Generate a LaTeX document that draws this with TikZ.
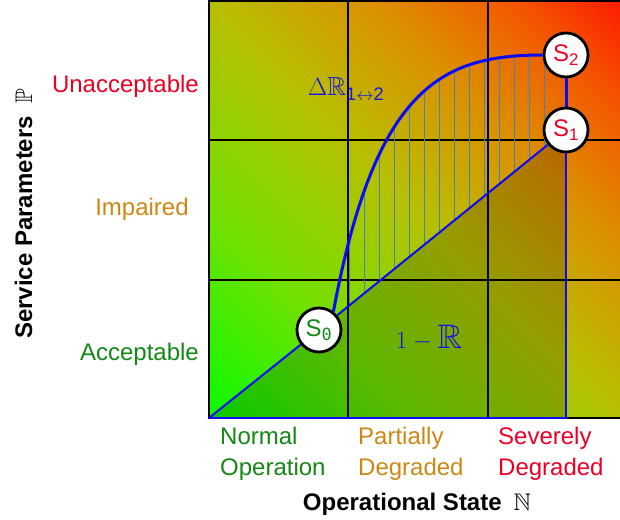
\documentclass[tikz,border=0pt]{standalone}
\usepackage{amsmath}
\usepackage{amssymb}
\usepackage[no-math]{fontspec}
\setmainfont{Liberation Sans}
\newfontfamily\zerofont{DejaVu Sans Mono}
\usepackage{tikz}
\usetikzlibrary{calc}

\definecolor{lblred}{RGB}{235,0,35}
\definecolor{lblorange}{RGB}{205,135,20}
\definecolor{lblgreen}{RGB}{20,135,20}
\definecolor{hatchblue}{RGB}{70,130,195}
\definecolor{lineblue}{RGB}{10,10,250}
\definecolor{mathblue}{RGB}{20,20,230}

% green -> yellow -> red along the diagonal (corners sit at 14.6bp and 85.4bp)
\pgfdeclarehorizontalshading{statefield}{100bp}{rgb(0bp)=(0.04,0.98,0); rgb(14.6bp)=(0.04,0.98,0); rgb(32.3bp)=(0.45,0.88,0); rgb(50bp)=(0.72,0.75,0); rgb(64.2bp)=(0.86,0.56,0); rgb(74.8bp)=(0.95,0.36,0); rgb(85.4bp)=(1,0.1,0); rgb(100bp)=(1,0.1,0)}

\begin{document}
\begin{tikzpicture}[x=1pt,y=1pt,
	state/.style={circle,draw=black,line width=2.8pt,fill=white,minimum size=44pt,inner sep=0pt,font=\fontsize{24}{28}\selectfont},
	lbl/.style={inner sep=0pt,font=\fontsize{24}{31}\selectfont,align=left},
	grid/.style={black,line width=2pt},
	conn/.style={lineblue,line width=2pt},
	hatch/.style={hatchblue,line width=0.8pt}]
		
		\useasboundingbox (0,0) rectangle (620,519);
		\clip (0,0) rectangle (620,519);
		
		%----------------------------------------
		% Plot corners and state positions
		%----------------------------------------
		\coordinate (O) at (209,101);
		\coordinate (TR) at (627,518);
		\coordinate (p0) at (319,189);
		\coordinate (p1) at (566,389);
		\coordinate (p2) at (566,464);
		
		%----------------------------------------
		% Background field and grid
		%----------------------------------------
		\shade[shading=statefield,shading angle=45] (O) rectangle (TR);
		
		\foreach \x in {348,488}
		\draw[grid] (\x,101) -- (\x,518);
		\foreach \y in {239,379}
		\draw[grid] (209,\y) -- (627,\y);
		\draw[grid,line width=2.5pt] (O) rectangle (TR);
		
		%----------------------------------------
		% Darker area below the diagonal
		%----------------------------------------
		\fill[black,opacity=0.18] (O) -- (p1) -- (p1 |- O) -- cycle;
		
		%----------------------------------------
		% Hatching between curve and diagonal
		%----------------------------------------
		\begin{scope}
			\clip ($(p0)+(52:23.5pt)$) .. controls (375,430) and (440,464) .. (548,464)
			-- (548,374) -- (p0) -- cycle;
			\foreach \x in {349,364,...,544}
			\draw[hatch] (\x,101) -- (\x,518);
		\end{scope}
		
		%----------------------------------------
		% States
		%----------------------------------------
		\node[state,text=lblgreen] (S0) at (p0) {S$_{\text{\zerofont 0}}$};
		\node[state,text=lblred] (S1) at (p1) {S$_{\text{1}}$};
		\node[state,text=lblred] (S2) at (p2) {S$_{\text{2}}$};
		
		%----------------------------------------
		% Paths between states
		%----------------------------------------
		\draw[conn] (O) -- (S0) -- (S1);
		\draw[conn] (O) -- (S1 |- O) -- (S1);
		\draw[conn,line width=3pt] (S1) -- (S2);
		\draw[conn,line width=3pt] (S0.52) .. controls (375,430) and (440,464) .. (S2);
		
		\node[inner sep=0pt,anchor=base west,text=mathblue,font=\fontsize{26}{30}\selectfont] (dR) at (308,423)
		{$\Delta\mathbb{R}_{\text{1}\leftrightarrow\text{2}}$};
		\node[inner sep=0pt,anchor=base,text=mathblue,font=\fontsize{34}{38}\selectfont] (oneR) at (429,170)
		{$1-\mathbb{R}$};
		
		%----------------------------------------
		% Axis labels
		%----------------------------------------
		\node[lbl,text=lblred,anchor=base east] (unacc) at (199,426) {Unacceptable};
		\node[lbl,text=lblorange,anchor=base] (impair) at (142,303) {Impaired};
		\node[lbl,text=lblgreen,anchor=base east] (acc) at (199,158) {Acceptable};
		\node[lbl,anchor=base,rotate=90] (ylabel) at (32,305)
		{\bfseries Service Parameters\enspace$\mathbb{P}$};
		
		\node[lbl,text=lblgreen,anchor=north west] (normal) at (220,92) {Normal\\Operation};
		\node[lbl,text=lblorange,anchor=north west] (partial) at (358,92) {Partially\\Degraded};
		\node[lbl,text=lblred,anchor=north west] (severe) at (498,92) {Severely\\Degraded};
		\node[lbl,anchor=base] (xlabel) at (417,9)
		{\bfseries Operational State\enspace$\mathbb{N}$};
		
	\end{tikzpicture}
\end{document}
